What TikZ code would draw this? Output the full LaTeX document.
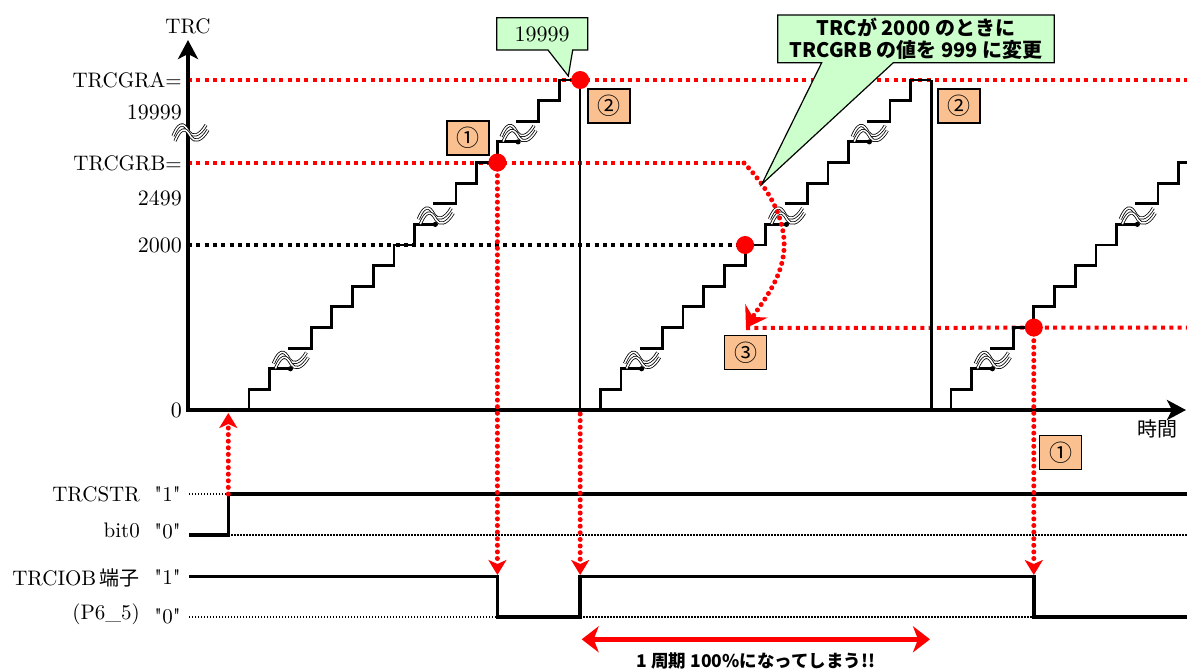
\documentclass[tikz,border=0pt]{standalone}
\usepackage{fontspec}
\setmainfont{lmroman10-regular.otf}[Ligatures=TeXOff]
\newfontfamily\cjk{Noto Sans CJK JP}
\usetikzlibrary{arrows.meta,calc}
\definecolor{peach}{HTML}{FAC090}
\definecolor{mint}{HTML}{CCFFCC}
\def\sw{20.7}
\def\sh{20.625}
\newcommand\drawstairs[1]{%
 \pgfmathsetmacro\xo{#1}%
 \draw[stair] (\xo,410) \foreach \i in {1,2}{ -- ++(0,-\sh) -- ++(\sw,0)};
 \fill ({\xo+2*\sw},{410-2*\sh}) circle (2.6);
 \draw[stair] ({\xo+2*\sw-2},{410-3*\sh}) -- ++({\sw+2},0) \foreach \i in {1,...,6}{ -- ++(0,-\sh) -- ++(\sw,0)};
 \fill ({\xo+9*\sw},{410-9*\sh}) circle (2.6);
 \draw[stair] ({\xo+9*\sw-2},{410-10*\sh}) -- ++({\sw+2},0) \foreach \i in {1,2,3}{ -- ++(0,-\sh) -- ++(\sw,0)};
 \fill ({\xo+13*\sw},{410-13*\sh}) circle (2.6);
 \draw[stair] ({\xo+13*\sw-2},{410-14*\sh}) -- ++({\sw+2},0) \foreach \i in {1,2}{ -- ++(0,-\sh) -- ++(\sw,0)};
 \draw[drop] ({\xo+16*\sw},{410-16*\sh}) -- ({\xo+16*\sw},410);
 \foreach \k in {2,9,13} \pic at ({\xo+\k*\sw-1},{410-(\k+0.5)*\sh}) {brkpic};
}
\begin{document}
\begin{tikzpicture}[x=1pt,y=-1pt,
  every node/.style={font=\fontsize{21}{25}\selectfont, inner sep=0pt},
  num/.style={font=\fontsize{22}{26}\selectfont},
  stair/.style={line width=2.8pt, line join=miter},
  drop/.style={line width=2.2pt},
  sqdot/.style={line width=4pt, dash pattern=on 4pt off 4.3pt},
  rddot/.style={red, line width=5pt, line cap=round, dash pattern=on 0pt off 6.6pt},
  brk/.style={double=white, double distance=1.5pt, line width=0.8pt},
  brkpic/.pic={
    \draw[brk] (-16,5) .. controls (-8,-14) and (-3,-4) .. (0,1) .. controls (3,6) and (10,6) .. (17,-6);
    \draw[brk] (-14,10) .. controls (-6,-9) and (-1,1) .. (2,6) .. controls (5,11) and (12,11) .. (19,-1);
  },
  numbox/.style={draw, fill=peach, line width=1.3pt, minimum width=42pt, minimum height=34pt, font=\cjk\fontsize{23}{26}\selectfont},
  sig/.style={line width=3.5pt, line join=miter},
  thindot/.style={line width=1.3pt, dash pattern=on 1.3pt off 1.7pt},
  bigdot/.style={circle, fill=red, minimum size=18pt, inner sep=0pt},
  arr/.style={-{Stealth[length=15pt,width=18pt,inset=4pt]}},
  callout/.style={fill=mint, draw, line width=1.2pt, line join=miter},
  axis/.style={line width=3.5pt, line join=miter}
]
\useasboundingbox (0,0) rectangle (1187,670);
\clip (0,0) rectangle (1187,670);

% named coordinates
\coordinate (O) at (188,410);
\coordinate (Ytop) at (188,40);
\coordinate (Xend) at (1186,410);
\coordinate (pA) at (580.2,80);
\coordinate (pB) at (497.4,162.5);
\coordinate (p2000) at (745.1,245);
\coordinate (p999) at (1033.8,327.5);
\coordinate (arr3) at (746,328);

% level lines
\draw[sqdot, red] (188,80) -- (1187,80);
\draw[sqdot, red] (188,162.5) -- (744,162.5);
\draw[sqdot] (188,245) -- (p2000);
\draw[sqdot, red] (arr3) -- (1187,327.5);

% staircases
\drawstairs{249}
\drawstairs{600.2}
\drawstairs{951}

% axes
\draw[axis, {Stealth[length=19pt,width=20pt,inset=5pt]}-{Stealth[length=19pt,width=20pt,inset=5pt]}] (Ytop) -- (O) -- (Xend);
\pic at (189,131) {brkpic};

% axis labels
\node (lTRC) at (188,26) {TRC};
\node[anchor=east] (lGRA) at (182,80) {TRCGRA=};
\node[anchor=east, num] (lGRAv) at (182,112) {19999};
\node[anchor=east] (lGRB) at (182,163) {TRCGRB=};
\node[anchor=east, num] (lGRBv) at (182,198) {2499};
\node[anchor=east, num] (l2000) at (182,245) {2000};
\node[anchor=east, num] (l0) at (182,410) {0};
\node[font=\cjk\fontsize{20}{24}\selectfont] (ltime) at (1157,429) {時間};

% curved change arrow
\draw[rddot, -{Stealth[length=20pt,width=26pt,inset=7pt]}] (744,163) .. controls (770,190) and (786,220) .. (784,250) .. controls (782,280) and (760,305) .. (arr3);

% signals
\coordinate (stR) at (228.3,494);
\coordinate (stL) at (228.3,535);
\draw[thindot] (189,494) -- (stR);
\draw[thindot] (stL) -- (1187,535);
\draw[sig] (189,535) -- (stL) -- (stR) -- (1187,494);

\coordinate (ioH) at (189,576.5);
\coordinate (ioL) at (189,617);
\draw[thindot] (ioL) -- (497.4,617);
\draw[thindot] (580.2,617) -- (1033.8,617);
\draw[sig] (ioH) -- (497.4,576.5) -- (497.4,617) -- (580.2,617) -- (580.2,576.5) -- (1033.8,576.5) -- (1033.8,617) -- (1187,617);

% signal labels
\node[anchor=east] (lSTR) at (140,494) {TRCSTR};
\node (q1a) at (167.5,494) {"1"};
\node[anchor=east] (lbit) at (140,530) {bit0};
\node (q0a) at (167.5,531) {"0"};
\node[anchor=east] (lIOB) at (140,578) {TRCIOB\,{\cjk\fontsize{20}{24}\selectfont 端子}};
\node (q1b) at (167.5,577) {"1"};
\node[anchor=east] (lP65) at (140,614) {(P6\_5)};
\node (q0b) at (167.5,616) {"0"};

% red vertical arrows
\draw[rddot, arr] (pB) -- (pB |- 0,575);
\draw[rddot, arr] (580.2,414) -- (580.2,575);
\draw[rddot, arr] (p999) -- (p999 |- 0,575);
\draw[rddot, arr] (stR) -- (228.3,413);

% red dots
\node[bigdot] (dA) at (pA) {};
\node[bigdot] (dB) at (pB) {};
\node[bigdot] (d2000) at (p2000) {};
\node[bigdot] (d999) at (p999) {};

% number boxes
\node[numbox] (n1a) at (468,138) {①};
\node[numbox] (n2a) at (609,106) {②};
\node[numbox] (n2b) at (959,106) {②};
\node[numbox] (n3) at (745.5,352.5) {③};
\node[numbox] (n1b) at (1060.5,452.5) {①};

% callouts
\draw[callout] (496.7,17.7) -- (587.7,17.7) -- (587.7,50) -- (572.7,50) -- (568.3,76) -- (548,50) -- (496.7,50) -- cycle;
\node[num] (c1) at (542.2,34) {19999};
\draw[callout] (777.7,15) -- (1054.3,15) -- (1054.3,62.7) -- (893.3,62.7) -- (761.7,184.3) -- (821.7,62.7) -- (777.7,62.7) -- cycle;
\node[align=center, font=\cjk\bfseries\fontsize{20}{22}\selectfont] (c2) at (916,38.5) {TRCが 2000 のときに\\TRCGRB の値を 999 に変更};

% period arrow
\coordinate (perL) at (581.7,639.3);
\coordinate (perR) at (930,639.3);
\draw[red, line width=4.5pt, {Stealth[length=17pt,width=26pt,inset=5pt]}-{Stealth[length=17pt,width=26pt,inset=5pt]}] (perL) -- (perR);
\node[font=\cjk\bfseries\fontsize{17.5}{21}\selectfont] (msg) at (756,661) {1 周期 100\%になってしまう!!};
\end{tikzpicture}
\end{document}
